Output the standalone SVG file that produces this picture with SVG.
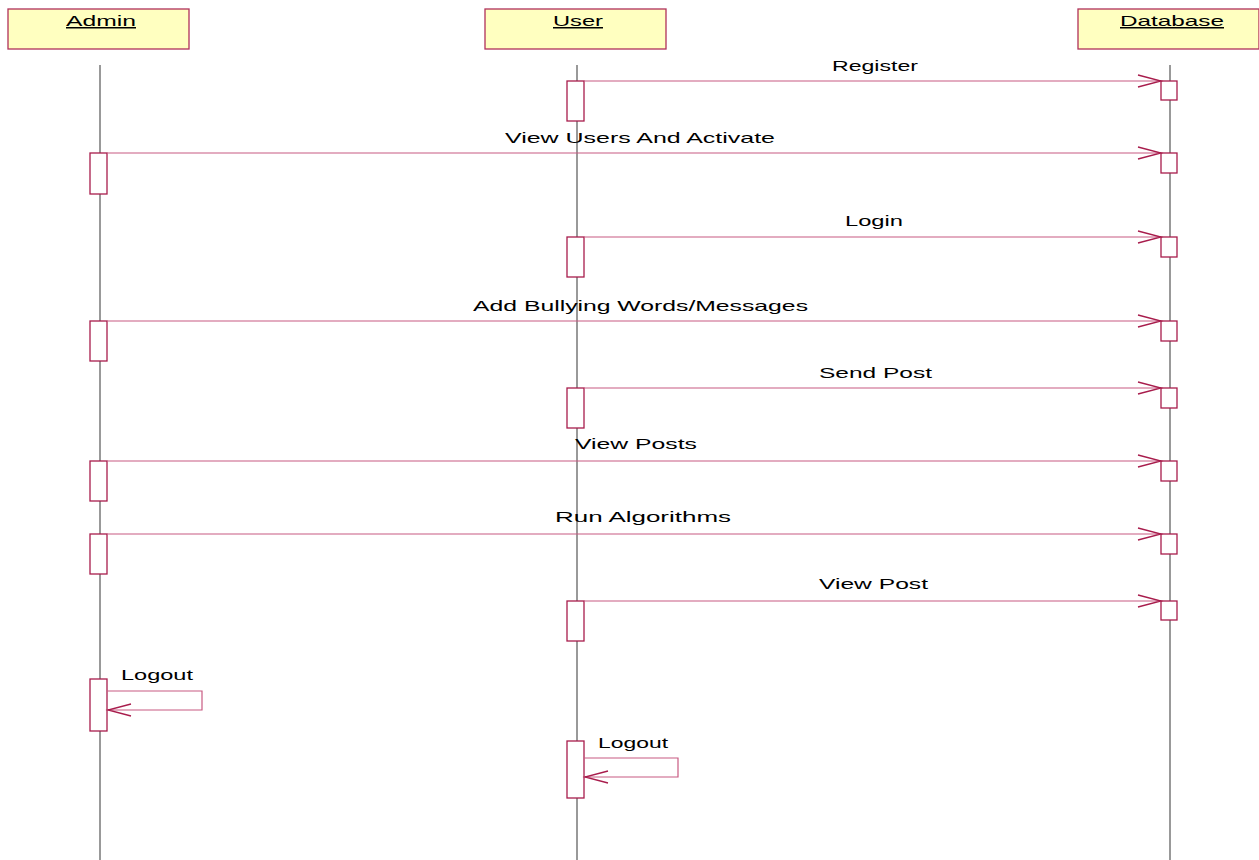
<svg xmlns="http://www.w3.org/2000/svg" width="1259" height="860" viewBox="0 0 1259 860">
<style>
.hdr{fill:#ffffc0;stroke:#b0305a;stroke-width:1.3}
.life{stroke:#555;stroke-width:1.2;fill:none}
.act{fill:#fff;stroke:#a81c4c;stroke-width:1.3}
.msg{stroke:#c85a82;stroke-width:1.2;fill:none}
.t{font-family:"Liberation Sans",Arial,sans-serif;font-size:15px;fill:#000}
.u{text-decoration:underline}
</style>
<defs>
<marker id="ah" markerUnits="userSpaceOnUse" markerWidth="30" markerHeight="16" refX="0" refY="0" viewBox="-25 -8 27 16" orient="auto" overflow="visible">
<path d="M-23,-6 L0,0 L-23,6" fill="none" stroke="#a81c4c" stroke-width="1.3"/>
</marker>
</defs>
<rect width="1259" height="860" fill="#fff"/>
<g id="lifelines">
<line class="life" x1="100" y1="65" x2="100" y2="860"/>
<line class="life" x1="577" y1="65" x2="577" y2="860"/>
<line class="life" x1="1170" y1="65" x2="1170" y2="860"/>
</g>
<g id="admin">
<rect class="hdr" x="8" y="9" width="181" height="40"/>
<text class="t u" x="66" y="26" textLength="70" lengthAdjust="spacingAndGlyphs">Admin</text>
<rect class="act" x="90" y="153" width="17" height="41"/>
<rect class="act" x="90" y="321" width="17" height="40"/>
<rect class="act" x="90" y="461" width="17" height="40"/>
<rect class="act" x="90" y="534" width="17" height="40"/>
<rect class="act" x="90" y="679" width="17" height="52"/>
</g>
<g id="user">
<rect class="hdr" x="485" y="9" width="181" height="40"/>
<text class="t u" x="553" y="26" textLength="50" lengthAdjust="spacingAndGlyphs">User</text>
<rect class="act" x="567" y="81" width="17" height="40"/>
<rect class="act" x="567" y="237" width="17" height="40"/>
<rect class="act" x="567" y="388" width="17" height="40"/>
<rect class="act" x="567" y="601" width="17" height="40"/>
<rect class="act" x="567" y="741" width="17" height="57"/>
</g>
<g id="database">
<rect class="hdr" x="1078" y="9" width="181" height="40"/>
<text class="t u" x="1120" y="26" textLength="104" lengthAdjust="spacingAndGlyphs">Database</text>
<rect class="act" x="1161" y="81" width="16" height="19"/>
<rect class="act" x="1161" y="153" width="16" height="20"/>
<rect class="act" x="1161" y="237" width="16" height="20"/>
<rect class="act" x="1161" y="321" width="16" height="20"/>
<rect class="act" x="1161" y="388" width="16" height="20"/>
<rect class="act" x="1161" y="461" width="16" height="20"/>
<rect class="act" x="1161" y="534" width="16" height="20"/>
<rect class="act" x="1161" y="601" width="16" height="19"/>
</g>
<g id="connectors">
<line class="msg" x1="584" y1="81" x2="1161" y2="81" marker-end="url(#ah)"/>
<line class="msg" x1="107" y1="153" x2="1161" y2="153" marker-end="url(#ah)"/>
<line class="msg" x1="584" y1="237" x2="1161" y2="237" marker-end="url(#ah)"/>
<line class="msg" x1="107" y1="321" x2="1161" y2="321" marker-end="url(#ah)"/>
<line class="msg" x1="584" y1="388" x2="1161" y2="388" marker-end="url(#ah)"/>
<line class="msg" x1="107" y1="461" x2="1161" y2="461" marker-end="url(#ah)"/>
<line class="msg" x1="107" y1="534" x2="1161" y2="534" marker-end="url(#ah)"/>
<line class="msg" x1="584" y1="601" x2="1161" y2="601" marker-end="url(#ah)"/>
<polyline class="msg" points="107,691 202,691 202,710 108,710" marker-end="url(#ah)"/>
<polyline class="msg" points="584,758 678,758 678,777 585,777" marker-end="url(#ah)"/>
</g>
<g id="labels">
<text class="t" x="832" y="71" textLength="86" lengthAdjust="spacingAndGlyphs">Register</text>
<text class="t" x="505" y="143" textLength="270" lengthAdjust="spacingAndGlyphs">View Users And Activate</text>
<text class="t" x="845" y="226" textLength="58" lengthAdjust="spacingAndGlyphs">Login</text>
<text class="t" x="473" y="311" textLength="335" lengthAdjust="spacingAndGlyphs">Add Bullying Words/Messages</text>
<text class="t" x="819" y="378" textLength="113" lengthAdjust="spacingAndGlyphs">Send Post</text>
<text class="t" x="575" y="449" textLength="122" lengthAdjust="spacingAndGlyphs">View Posts</text>
<text class="t" x="555" y="522" textLength="176" lengthAdjust="spacingAndGlyphs">Run Algorithms</text>
<text class="t" x="819" y="589" textLength="109" lengthAdjust="spacingAndGlyphs">View Post</text>
<text class="t" x="121" y="680" textLength="72" lengthAdjust="spacingAndGlyphs">Logout</text>
<text class="t" x="598" y="748" textLength="70" lengthAdjust="spacingAndGlyphs">Logout</text>
</g>
</svg>
